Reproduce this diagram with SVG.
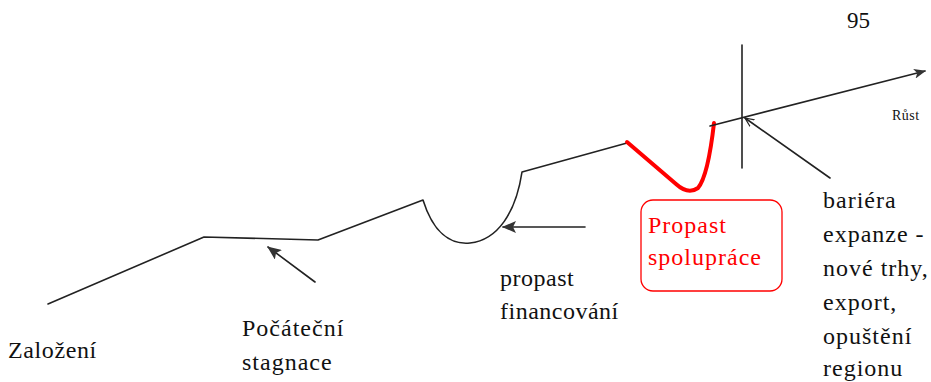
<svg xmlns="http://www.w3.org/2000/svg" width="931" height="382" viewBox="0 0 931 382">
  <style>
    .t { font-family: 'Liberation Serif', 'DejaVu Serif', 'Times New Roman', serif; font-size: 24px; letter-spacing: 1px; fill: #111; }
    .red { fill: #ff0000; }
    .ln { fill: none; stroke: #222; stroke-width: 1.6; stroke-linejoin: round; stroke-linecap: round; }
  </style>
  <defs>
    <marker id="ah" viewBox="0 0 12 10" refX="11" refY="5" markerWidth="12" markerHeight="10" markerUnits="userSpaceOnUse" orient="auto">
      <path d="M0,0 L12,5 L0,10 L3,5 Z" fill="#333"/>
    </marker>
    <marker id="ahs" viewBox="0 0 14 12" refX="13" refY="6" markerWidth="14" markerHeight="12" markerUnits="userSpaceOnUse" orient="auto">
      <path d="M0,0 L14,6 L0,12 L3,6 Z" fill="#333"/>
    </marker>
    <marker id="aho" viewBox="0 0 10 10" refX="9" refY="5" markerWidth="10" markerHeight="10" markerUnits="userSpaceOnUse" orient="auto">
      <path d="M0,1 L9,5 L0,9" fill="none" stroke="#222" stroke-width="1.2"/>
    </marker>
  </defs>

  <g id="page-number"><text class="t" x="847" y="28" font-family="Liberation Serif, serif" style="font-size:23px;letter-spacing:0">95</text></g>

  <g id="connectors">
    <path class="ln" d="M48,304 L204,237 L318,240 L423,200 C433,232 450,245 470,243 C498,240 516,212 522,172 L627,143"/>
    <path d="M627,142 L676,184 Q688,195 698,188 Q708,176 714,123" fill="none" stroke="#ff0000" stroke-width="4" stroke-linecap="round" stroke-linejoin="round"/>
    <path class="ln" d="M710,126 L925,71" marker-end="url(#ah)"/>
    <path class="ln" d="M742,45 L742,168"/>
    <path class="ln" d="M830,178 L745,118" marker-end="url(#aho)"/>
    <path class="ln" d="M315,282 L268,247" marker-end="url(#ahs)"/>
    <path class="ln" d="M585,227 L503,227" marker-end="url(#ahs)"/>
  </g>

  <g id="label-rust"><text class="t" x="892" y="120" style="font-size:14px;letter-spacing:0.5px">Růst</text></g>

  <g id="label-zalozeni"><text class="t" x="8" y="358" style="letter-spacing:0.6px">Založení</text></g>

  <g id="label-stagnace">
    <text class="t" x="242" y="336">Počáteční</text>
    <text class="t" x="242" y="370">stagnace</text>
  </g>

  <g id="label-financovani">
    <text class="t" x="500" y="286" style="letter-spacing:0.5px">propast</text>
    <text class="t" x="500" y="319" style="letter-spacing:0.5px">financování</text>
  </g>

  <g id="node-spoluprace">
    <rect x="641" y="200" width="141" height="91" rx="12" ry="12" fill="#fff" stroke="#ff0000" stroke-width="1.3"/>
    <text class="t red" x="648" y="233">Propast</text>
    <text class="t red" x="648" y="265">spolupráce</text>
  </g>

  <g id="label-bariera">
    <text class="t" x="823" y="208">bariéra</text>
    <text class="t" x="823" y="242">expanze -</text>
    <text class="t" x="823" y="276">nové trhy,</text>
    <text class="t" x="823" y="310">export,</text>
    <text class="t" x="823" y="344">opuštění</text>
    <text class="t" x="823" y="376">regionu</text>
  </g>
</svg>
